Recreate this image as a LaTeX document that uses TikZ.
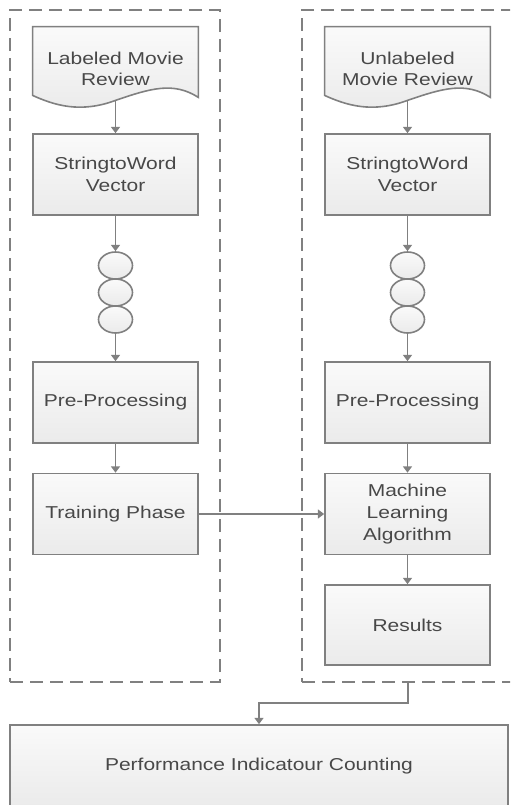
\documentclass[tikz,border=0pt]{standalone}
\usepackage{fontspec}
\setmainfont{Liberation Sans}[FakeStretch=1.22]
\usepackage{tikz}
\usetikzlibrary{arrows.meta,shapes.geometric,calc,backgrounds}
\definecolor{edge}{RGB}{128,128,128}
\definecolor{ink}{RGB}{72,72,72}

\begin{document}
\begin{tikzpicture}[x=0.5pt, y=-0.5pt, font=\fontsize{8.6}{10.8}\selectfont, text=ink,
  >={Triangle[width=4.5pt,length=3.2pt]},
  block/.style={rectangle, draw=edge, line width=0.8pt, top color=white!98!black,
                bottom color=white!92!black, minimum width=82.5pt, minimum height=40.5pt,
                align=center, inner sep=2pt},
  docbox/.style={rectangle, minimum width=82.5pt, minimum height=42pt, align=center, inner sep=2pt},
  docline/.style={draw=edge, line width=0.8pt, top color=white!98!black, bottom color=white!92!black},
  bead/.style={ellipse, draw=edge, line width=0.8pt, top color=white!98!black,
               bottom color=white!92!black, minimum width=17pt, minimum height=13.5pt, inner sep=0pt},
  group/.style={rectangle, draw=edge, line width=0.8pt, dash pattern=on 6.5pt off 3.5pt,
                minimum height=336pt},
  link/.style={->, draw=edge, line width=0.8pt}]
  \useasboundingbox (0,0) rectangle (510,805);
  \clip (0,0) rectangle (510,805);

  % dashed groups
  \node[group, minimum width=105pt] (lgroup) at (115,346) {};
  \node[group, minimum width=115pt] (rgroup) at (417,346) {};
  \coordinate (rgroupout) at (408,682);

  % left column: labeled data
  \node[docbox] (ldoc)   at (115.5,69)    {Labeled Movie\\ Review};
  \node[block]  (lvec)   at (115.5,174.5) {StringtoWord\\ Vector};
  \node[block]  (lpre)   at (115.5,402.5) {Pre-Processing};
  \node[block]  (ltrain) at (115.5,514)   {Training Phase};

  % right column: unlabeled data
  \node[docbox] (rdoc) at (407.5,69)    {Unlabeled\\ Movie Review};
  \node[block]  (rvec) at (407.5,174.5) {StringtoWord\\ Vector};
  \node[block]  (rpre) at (407.5,402.5) {Pre-Processing};
  \node[block]  (rml)  at (407.5,514)   {Machine\\ Learning\\ Algorithm};
  \node[block, minimum height=40pt] (rres) at (407.5,625) {Results};

  \foreach \i/\y in {1/265.5,2/292.5,3/319.5} {
    \node[bead] (lc\i) at (115.5,\y) {};
    \node[bead] (rc\i) at (407.5,\y) {};
  }

  \node[block, minimum width=249pt, minimum height=41.5pt] (perf) at (259,766.5)
    {Performance Indicatour Counting};

  % document outlines with wavy bottom
  \begin{scope}[on background layer]
    \foreach \d in {ldoc,rdoc}
      \draw[docline] (\d.north west) -- (\d.north east) -- ($(\d.south east)+(0,-14)$)
        .. controls +(-25,-16) and +(35,-12) .. ($(\d.south)+(0,-11)$)
        .. controls +(-35,13) and +(22,10) .. ($(\d.south west)+(0,-16)$) -- cycle;
  \end{scope}
  \coordinate (ldocend) at ($(ldoc.south)+(0,-11)$);
  \coordinate (rdocend) at ($(rdoc.south)+(0,-11)$);

  \draw[link] (ldocend) -- (lvec.north);
  \draw[link] (lvec.south) -- (lc1.north);
  \draw[link] (lc3.south) -- (lpre.north);
  \draw[link] (lpre.south) -- (ltrain.north);
  \draw[link] (rdocend) -- (rvec.north);
  \draw[link] (rvec.south) -- (rc1.north);
  \draw[link] (rc3.south) -- (rpre.north);
  \draw[link] (rpre.south) -- (rml.north);
  \draw[link] (rml.south) -- (rres.north);
  \draw[link] (ltrain.east) -- (rml.west);
  \draw[link] (rgroupout) -- ++(0,21) -| (perf.north);
\end{tikzpicture}
\end{document}
